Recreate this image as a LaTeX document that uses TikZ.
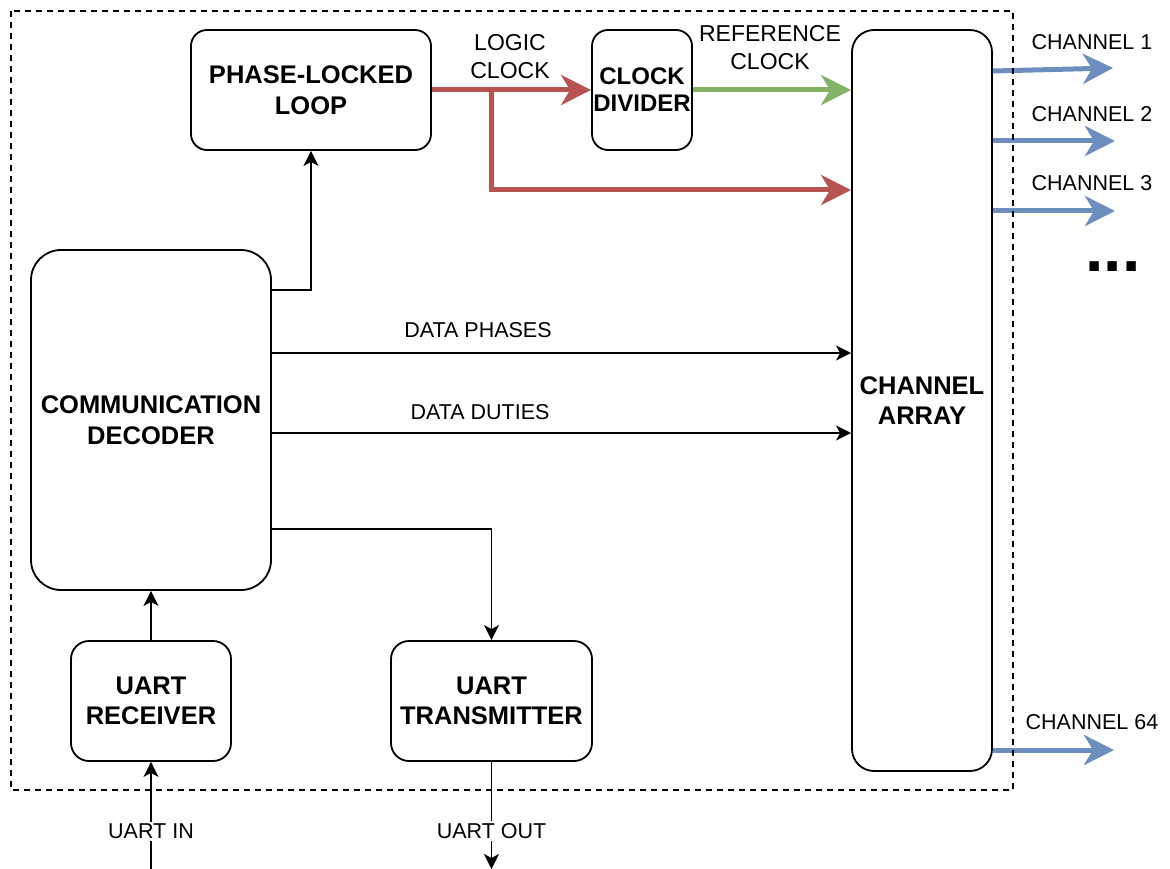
\documentclass[tikz,border=0pt]{standalone}
\usepackage{fontspec}
\setmainfont{Liberation Sans}
\usetikzlibrary{arrows.meta}
\definecolor{clkred}{HTML}{B85450}
\definecolor{refgreen}{HTML}{82B366}
\definecolor{chblue}{HTML}{6C8EBF}
\tikzset{
  block/.style={draw, line width=1.8pt, rounded corners=16pt, align=center, inner sep=0pt,
    font=\bfseries\fontsize{25.5}{30.5}\selectfont},
  lbl/.style={align=center, inner sep=0pt, font=\fontsize{21.5}{25}\selectfont},
  clklbl/.style={align=center, inner sep=0pt, font=\fontsize{23}{28}\selectfont},
  sig/.style={line width=1.8pt, -{Stealth[length=15pt,width=15pt,inset=4pt]}},
  fat/.style={line width=5pt, line join=miter, -{Stealth[length=30pt,width=30pt,inset=9pt]}},
  border/.style={line width=1.6pt, dash pattern=on 6pt off 5pt},
}
\begin{document}
\begin{tikzpicture}[x=1pt, y=-1pt]
\useasboundingbox (0,0) rectangle (1170,869);

% functional blocks
\node[block, minimum width=240pt, minimum height=120pt] (pll) at (311,90) {PHASE-LOCKED\\LOOP};
\node[block, minimum width=100pt, minimum height=120pt, font=\bfseries\fontsize{24}{27}\selectfont] (div) at (642,90) {CLOCK\\DIVIDER};
\node[block, minimum width=140pt, minimum height=741pt, rounded corners=22pt] (ch) at (922,400.5) {CHANNEL\\ARRAY};
\node[block, minimum width=240pt, minimum height=340pt, rounded corners=30pt] (dec) at (151,420) {COMMUNICATION\\DECODER};
\node[block, minimum width=160pt, minimum height=120pt, rounded corners=18pt] (rx) at (151,701) {UART\\RECEIVER};
\node[block, minimum width=201pt, minimum height=120pt, rounded corners=18pt] (tx) at (491.5,701) {UART\\TRANSMITTER};

% clock distribution
\coordinate (split) at (491,90);
\coordinate (lowclk) at (0,190);
\draw[fat, draw=clkred] (pll.east) -- (div.west);
\draw[fat, draw=clkred] (split) |- (ch.west |- lowclk);
\draw[fat, draw=refgreen] (div.east) -- (ch.west |- div.east);
\node[clklbl] (logic) at (510,57) {LOGIC\\CLOCK};
\node[clklbl] (refclk) at (770,47.5) {REFERENCE\\CLOCK};

% channel outputs
\coordinate (c1a) at (0,71);   \coordinate (c1) at (1113,68);
\coordinate (c2a) at (0,141);  \coordinate (c2) at (1115,141);
\coordinate (c3a) at (0,211);  \coordinate (c3) at (1115,211);
\coordinate (c64a) at (0,750); \coordinate (c64) at (1114,750);
\draw[fat, draw=chblue] (ch.east |- c1a) -- (c1);
\draw[fat, draw=chblue] (ch.east |- c2a) -- (c2);
\draw[fat, draw=chblue] (ch.east |- c3a) -- (c3);
\draw[fat, draw=chblue] (ch.east |- c64a) -- (c64);
\node[lbl] (l1) at (1092,42) {CHANNEL 1};
\node[lbl] (l2) at (1092,114) {CHANNEL 2};
\node[lbl] (l3) at (1092,183) {CHANNEL 3};
\node[lbl] (l64) at (1092,722) {CHANNEL 64};
\node[anchor=base, inner sep=0pt, font=\bfseries\fontsize{66}{70}\selectfont] (more) at (1113,271.7) {...};

% decoder connections
\coordinate (y1) at (0,290);
\coordinate (y2) at (0,353);
\coordinate (y3) at (0,433);
\coordinate (y4) at (0,529);
\draw[sig] (dec.east |- y1) -| (pll.south);
\draw[sig] (dec.east |- y2) -- (ch.west |- y2);
\draw[sig] (dec.east |- y3) -- (ch.west |- y3);
\draw[sig] (dec.east |- y4) -| (tx.north);
\node[lbl] (phases) at (478,330) {DATA PHASES};
\node[lbl] (duties) at (480,412) {DATA DUTIES};
\draw[sig] (rx.north) -- (dec.south);

% serial interface
\coordinate (uin) at (151,869);
\coordinate (uout) at (491.5,869);
\draw[sig] (uin) -- (rx.south);
\draw[sig] (tx.south) -- (uout);
\node[lbl, fill=white, inner sep=2pt] (inlbl) at (151,831) {UART IN};
\node[lbl, fill=white, inner sep=2pt] (outlbl) at (491.5,831) {UART OUT};

% device boundary
\draw[border] (11,11) rectangle (1013,790);
\end{tikzpicture}
\end{document}
